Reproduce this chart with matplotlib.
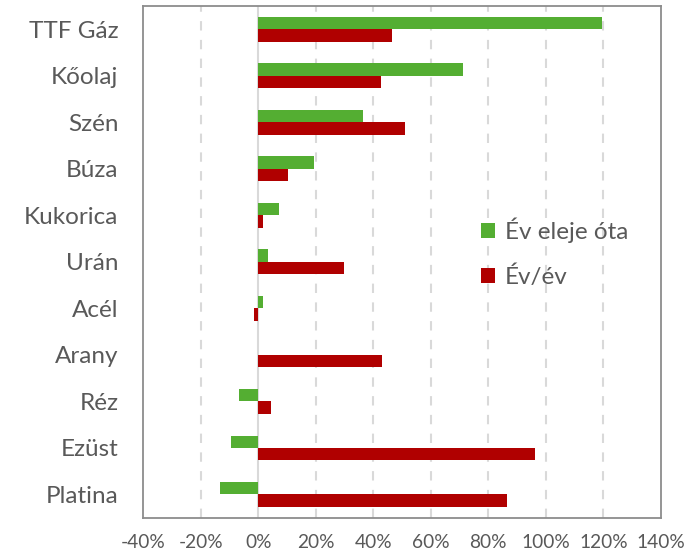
import matplotlib
matplotlib.use("Agg")
import matplotlib.pyplot as plt
from matplotlib.patches import Patch
import numpy as np

categories = ["TTF Gáz", "Kőolaj", "Szén", "Búza", "Kukorica", "Urán",
              "Acél", "Arany", "Réz", "Ezüst", "Platina"]
ytd = [119.4, 71.2, 36.3, 19.2, 7.3, 3.5, 1.7, 0.0, -6.8, -9.4, -13.4]
yoy = [46.4, 42.6, 51.1, 10.4, 1.7, 29.8, -1.5, 42.9, 4.5, 96.3, 86.6]
series_names = ["Év eleje óta", "Év/év"]
xticks = [-40, -20, 0, 20, 40, 60, 80, 100, 120, 140]

GREEN = "#54AE32"
RED = "#B00000"
GRAY_TXT = "#595959"

plt.rcParams['font.family'] = ['Lato', 'DejaVu Sans']

fig = plt.figure(figsize=(6.87, 5.54), dpi=100)
ax = fig.add_axes([143.3/687, 1 - 517.7/554, (660.8-143.3)/687, (517.7-6)/554])

y = np.arange(len(categories))
h = 0.267
ax.barh(y - h/2, ytd, height=h, color=GREEN, zorder=3)
ax.barh(y + h/2, yoy, height=h, color=RED, zorder=3)

ax.set_xlim(-40, 140)
ax.set_ylim(len(categories) - 0.5, -0.5)
ax.set_xticks(xticks)
ax.set_xticklabels([f"{t}%" for t in xticks])
ax.set_yticks(y)
ax.set_yticklabels(categories)

for t in xticks[1:-1]:
    if t == 0:
        ax.axvline(t, color="#d9d9d9", lw=1.5, zorder=2)
    else:
        ax.axvline(t, color="#d9d9d9", lw=1.5, ls=(0, (4.5, 4.5)), zorder=1)

ax.tick_params(axis='x', length=0, pad=12, labelsize=13.8, labelcolor=GRAY_TXT)
ax.tick_params(axis='y', length=0, pad=18, labelsize=17.5, labelcolor=GRAY_TXT)
for s in ax.spines.values():
    s.set_color("#8c8c8c")
    s.set_linewidth(1.3)

handles = [Patch(facecolor=GREEN, label=series_names[0]),
           Patch(facecolor=RED, label=series_names[1])]
leg = fig.legend(handles=handles, loc="upper left",
                 bbox_to_anchor=(471/687, 1 - 208/554), frameon=False,
                 fontsize=17.5, handlelength=0.58, handleheight=0.58,
                 handletextpad=0.4, labelspacing=0.92, borderaxespad=0)
for t in leg.get_texts():
    t.set_color(GRAY_TXT)

fig.savefig("out.png", dpi=100)
